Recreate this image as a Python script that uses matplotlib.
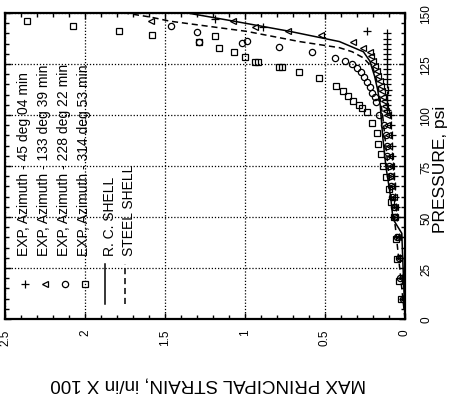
"""Max principal strain vs pressure, drawn in the rotated (landscape-on-page) layout."""

import matplotlib

matplotlib.use("Agg")
import matplotlib.pyplot as plt  # noqa: E402
from matplotlib.ticker import MultipleLocator  # noqa: E402

plt.rcParams["font.family"] = ["Liberation Sans", "DejaVu Sans"]

# ---------------------------------------------------------------------------
# Data (strain in in/in x 100, pressure in psi)
# ---------------------------------------------------------------------------

AZ45_STRAIN = [0.01, 0.02, 0.03, 0.04, 0.05, 0.055, 0.06, 0.065, 0.07, 0.075,
               0.08, 0.08, 0.08, 0.085, 0.09,
               0.11, 0.11, 0.112, 0.11, 0.108, 0.11, 0.112, 0.11, 0.11, 0.112,
               0.11, 0.11, 0.112, 0.11, 0.11, 0.112,
               0.24, 0.89, 1.19]
AZ45_PRESS = [10, 20, 30, 40, 50, 55, 60, 65, 70, 75,
              80, 85, 90, 95, 100,
              102.5, 105, 107.5, 110, 112.5, 115, 117.5, 120, 122.5, 125,
              127.5, 130, 132.5, 135, 137.5, 140,
              141, 143, 147]

AZ133_STRAIN = [0.015, 0.025, 0.035, 0.045, 0.06, 0.065, 0.07, 0.08, 0.085,
                0.09, 0.095, 0.1, 0.105, 0.11, 0.115,
                0.12, 0.125, 0.13, 0.14, 0.145, 0.15, 0.155, 0.17, 0.175,
                0.19, 0.2, 0.21, 0.22, 0.26,
                0.325, 0.525, 0.73, 0.94, 1.075, 1.59]
AZ133_PRESS = [10, 20, 30, 40, 50, 55, 60, 65, 70,
               75, 80, 85, 90, 95, 100,
               102, 104.5, 107, 109, 112, 114, 116.5, 119, 121.5,
               124, 126.5, 129, 131, 133,
               136, 139, 141, 143, 146, 146]

AZ228_STRAIN = [0.015, 0.03, 0.04, 0.05, 0.065, 0.07, 0.08, 0.09, 0.095,
                0.1, 0.11, 0.115, 0.12, 0.13, 0.16,
                0.18, 0.19, 0.206, 0.22, 0.24, 0.256, 0.275, 0.3, 0.33,
                0.375, 0.44, 0.58, 0.79, 0.99, 1.02, 1.29, 1.3, 1.46]
AZ228_PRESS = [10, 20, 30, 40, 50, 55, 60, 65, 70,
               75, 80, 85, 90, 95, 100,
               106.5, 109, 111, 113.5, 116, 118.5, 121, 123, 125,
               126.5, 128, 131, 133.5, 136.5, 135.5, 136, 140.5, 143.5]

AZ314_STRAIN = [0.025, 0.04, 0.05, 0.056, 0.07, 0.09, 0.1, 0.12, 0.14,
                0.15, 0.17, 0.175, 0.206,
                0.24, 0.27, 0.29, 0.325, 0.356, 0.39, 0.43, 0.54, 0.66,
                0.77, 0.79, 0.92, 0.94, 1.0, 1.07, 1.16, 1.19, 1.29,
                1.58, 1.79, 2.075, 2.36]
AZ314_PRESS = [10, 18.5, 29.5, 39, 50, 57.5, 63.5, 69.5, 75,
               81, 86, 91, 96,
               101.5, 103.5, 105, 107, 109.5, 112, 114, 118, 121,
               123.5, 123.5, 126, 126, 128.5, 131, 133, 138.5, 136,
               139, 141, 143.5, 146]

RC_STRAIN = [0.0, 0.02, 0.075, 0.09, 0.12, 0.14, 0.155, 0.17, 0.19, 0.22,
             0.26, 0.41, 0.72, 1.07, 1.36]
RC_PRESS = [0, 42, 49, 60, 75, 90, 105, 112, 119, 126.5,
            131, 136, 141, 146, 150]

STEEL_STRAIN = [0.0, 0.04, 0.06, 0.08, 0.1, 0.12, 0.14, 0.17, 0.2, 0.26,
                0.33, 0.41, 0.66, 0.99, 1.47, 1.59, 1.75]
STEEL_PRESS = [0, 30, 45, 55, 70, 85, 100, 115, 123, 128,
               131, 133, 136, 141, 146, 148, 150]

EXP_LABELS = ["EXP, Azimuth - 45 deg 04 min",
              "EXP, Azimuth - 133 deg 39 min",
              "EXP, Azimuth - 228 deg 22 min",
              "EXP, Azimuth - 314 deg 53 min"]
LINE_LABELS = ["R. C. SHELL", "STEEL SHELL"]

STRAIN_TICKS = [0, 0.5, 1, 1.5, 2, 2.5]
STRAIN_TICK_LABELS = ["0", "0.5", "1", "1.5", "2", "2.5"]
PRESS_TICKS = [0, 25, 50, 75, 100, 125, 150]

# ---------------------------------------------------------------------------
# Figure
# ---------------------------------------------------------------------------

W, H = 451, 402
fig = plt.figure(figsize=(W / 100, H / 100), dpi=100)
ax = fig.add_axes([5 / W, (H - 320) / H, 400 / W, 306 / H])

mk = dict(linestyle="none", markerfacecolor="none", markeredgecolor="black",
          markeredgewidth=0.9, color="black")
series = [
    (AZ45_STRAIN, AZ45_PRESS, "+", 6),
    (AZ133_STRAIN, AZ133_PRESS, "<", 4.5),
    (AZ228_STRAIN, AZ228_PRESS, "o", 4.5),
    (AZ314_STRAIN, AZ314_PRESS, "s", 4.3),
]
for xs, ys, m, ms in series:
    ax.plot(xs, ys, marker=m, markersize=ms, **mk)

ax.plot(RC_STRAIN, RC_PRESS, color="black", lw=1.1, ls="-")
ax.plot(STEEL_STRAIN, STEEL_PRESS, color="black", lw=1.1, ls=(0, (4, 2.5)))

ax.set_xlim(2.5, 0)
ax.set_ylim(0, 150)
ax.set_xticks(STRAIN_TICKS)
ax.set_xticklabels(STRAIN_TICK_LABELS, rotation=90, fontsize=8.5)
ax.set_yticks(PRESS_TICKS)
ax.set_yticklabels([str(p) for p in PRESS_TICKS], rotation=90, fontsize=8.5,
                   va="center")
ax.xaxis.set_minor_locator(MultipleLocator(0.1))
ax.yaxis.set_minor_locator(MultipleLocator(5))
ax.yaxis.tick_right()
ax.tick_params(which="both", direction="in", top=True, bottom=True,
               left=True, right=True, width=1)
ax.tick_params(which="major", length=4)
ax.tick_params(which="minor", length=3)
ax.tick_params(axis="x", pad=7)
ax.tick_params(axis="y", pad=11)
for s in ax.spines.values():
    s.set_linewidth(1.6)
ax.grid(True, which="major", color="black", ls=(0, (1, 1.5)), lw=0.9)

# axis titles, turned with the page
fig.text(208 / W, 1 - 384 / H, "MAX PRINCIPAL STRAIN, in/in X 100",
         rotation=180, ha="center", va="center", fontsize=13.5)
fig.text(441 / W, 1 - 169 / H, "PRESSURE, psi",
         rotation=90, ha="center", va="center", fontsize=12.5)

# hand-built legend, rotated like the rest
ppx = 160.0   # pixels per strain unit
ppy = 2.04    # pixels per psi


def to_data(px, py):
    return (405 - px) / ppx, (320 - py) / ppy


for i, (lab, (_, _, m, ms)) in enumerate(zip(EXP_LABELS, series)):
    xm, ym = to_data(25 + 20 * i, 285)
    ax.plot([xm], [ym], marker=m, markersize=ms, **mk)
    xt, yt = to_data(24 + 20 * i, 256)
    ax.text(xt, yt, lab, rotation=90, ha="center", va="bottom", fontsize=10)

for i, (lab, ls) in enumerate(zip(LINE_LABELS, ["-", (0, (4, 2.5))])):
    x0, y0 = to_data(105 + 20 * i, 305)
    _, y1 = to_data(105 + 20 * i, 265)
    ax.plot([x0, x0], [y0, y1], color="black", lw=1.1, ls=ls)
    xt, yt = to_data(110 + 19 * i, 256)
    ax.text(xt, yt, lab, rotation=90, ha="center", va="bottom", fontsize=10)

fig.savefig("out.png", dpi=100)
